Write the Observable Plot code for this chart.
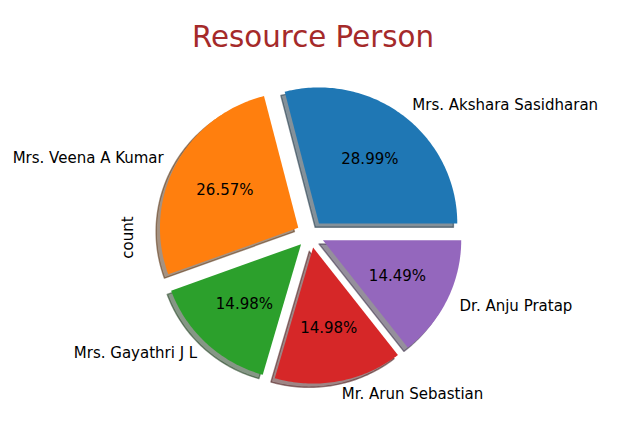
<!DOCTYPE html>
<html>
<head>
<meta charset="utf-8">
<script src="https://cdn.jsdelivr.net/npm/d3@7"></script>
<script src="https://cdn.jsdelivr.net/npm/@observablehq/plot@0.6"></script>
<style>
  html, body { margin: 0; padding: 0; background: #fff; }
  #chart svg { display: block; }
</style>
</head>
<body>
<div id="chart"></div>
<script>
// ---- data ----
const names = ["Mrs. Akshara Sasidharan", "Mrs. Veena A Kumar", "Mrs. Gayathri J L", "Mr. Arun Sebastian", "Dr. Anju Pratap"];
const counts = [60, 55, 31, 31, 30];
const colors = ["#1f77b4", "#ff7f0e", "#2ca02c", "#d62728", "#9467bd"];
const explode = [0.1, 0.1, 0.1, 0.1, 0.1];
const title = "Resource Person";
const yLabel = "count";

// ---- layout ----
const W = 637, H = 430;
const cx = 310, cy = 233.7;   // pie centre in px
const rx = 138.3, ry = 136;   // px per unit radius
const font = "DejaVu Sans, sans-serif";
const fs = 15;

const total = d3.sum(counts);
let start = 0;
const slices = counts.map((c, i) => {
  const a0 = start, a1 = start + 360 * c / total;
  start = a1;
  const am = (a0 + a1) / 2 * Math.PI / 180;
  const ox = explode[i] * Math.cos(am), oy = explode[i] * Math.sin(am);
  const pts = [{x: ox, y: oy}];
  const n = Math.max(2, Math.ceil((a1 - a0)));
  for (let k = 0; k <= n; k++) {
    const a = (a0 + (a1 - a0) * k / n) * Math.PI / 180;
    pts.push({x: ox + Math.cos(a), y: oy + Math.sin(a)});
  }
  pts.push({x: ox, y: oy});
  const cos = Math.cos(am), sin = Math.sin(am);
  return {
    name: names[i], color: colors[i], pts,
    shadow: pts.map(p => ({x: p.x - 0.0278, y: p.y - 0.0278})),
    shade: d3.rgb(...["r","g","b"].map(k => d3.rgb(colors[i])[k] * 0.3)).formatHex(),
    lx: ox + 1.1 * cos, ly: oy + 1.1 * sin,
    px: ox + 0.6 * cos, py: oy + 0.6 * sin,
    pct: (100 * c / total).toFixed(2) + "%",
    anchor: (ox + 1.1 * cos) > 0 ? "start" : "end"
  };
});

const marks = [];
slices.forEach(s => {
  marks.push(Plot.line(s.shadow, {x: "x", y: "y", fill: s.shade, fillOpacity: 0.5, stroke: s.shade, strokeOpacity: 0.5, strokeWidth: 1.4}));
});
slices.forEach(s => {
  marks.push(Plot.line(s.pts, {x: "x", y: "y", fill: s.color, stroke: "none"}));
});
marks.push(Plot.text(slices.filter(s => s.anchor === "start"), {x: "lx", y: "ly", text: "name", textAnchor: "start", fill: "#000", fontSize: fs}));
marks.push(Plot.text(slices.filter(s => s.anchor === "end"), {x: "lx", y: "ly", text: "name", textAnchor: "end", fill: "#000", fontSize: fs}));
marks.push(Plot.text(slices, {x: "px", y: "py", text: "pct", textAnchor: "middle", fill: "#000", fontSize: fs}));
marks.push(Plot.text([title], {frameAnchor: "top", textAnchor: "middle", dx: -6, dy: 26, fill: "#A52A2A", fontSize: 29.3}));
marks.push(Plot.text([yLabel], {frameAnchor: "left", textAnchor: "middle", dx: 128, dy: 22, rotate: -90, fill: "#000", fontSize: fs}));

const chart = Plot.plot({
  width: W, height: H,
  margin: 0,
  style: {fontFamily: font, background: "#fff"},
  x: {type: "linear", domain: [-cx / rx, (W - cx) / rx], axis: null},
  y: {type: "linear", domain: [-(H - cy) / ry, cy / ry], axis: null},
  marks
});
document.getElementById("chart").appendChild(chart);
</script>
</body>
</html>
